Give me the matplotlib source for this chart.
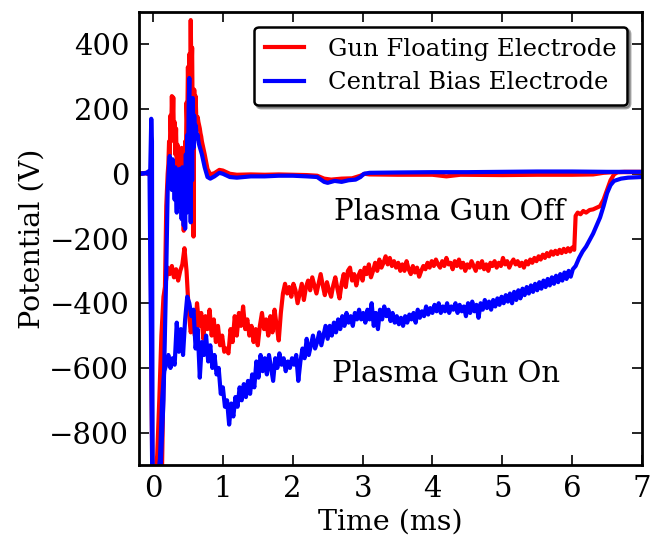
"""Electrode potential traces with the plasma gun on and off."""

import matplotlib
matplotlib.use("Agg")
import matplotlib.pyplot as plt
import numpy as np

# ---- data (time in ms, potential in V) ----
# Gun floating electrode, gun off
red_off_pre_t = [-0.2, -0.1, -0.03, -0.01, 0.02, 0.06, 0.1, 0.13, 0.16, 0.19, 0.21]
red_off_pre_v = [0, 2, -5, -960, -960, -960, -960, -900, -500, -100, 0]
red_off_spk_range = (0.22, 0.70)
red_off_spk_v = [30, 100, 60, 180, 120, 240, 150, 236, 100, 160,
                 60, 140, 20, 90, 40, 70, -20, 60, 0, 80,
                 -40, 30, -176, -60, 100, 20, 220, 150, 330, 200,
                 370, 260, 475, 300, 390, 100, -194, 260, 180, 240,
                 170, 165, 175, 160, 150, 140, 125, 115, 100]
red_off_post_t = [0.74, 0.78, 0.82, 0.88, 0.95, 1.0, 1.1, 1.2, 1.4, 1.6, 1.8, 2.0,
                  2.2, 2.35, 2.45, 2.55, 2.7, 2.85, 2.97, 3.03, 3.1, 3.5, 4.0,
                  4.2, 4.4, 5.0, 5.5, 6.0, 6.3, 6.45, 6.6, 7.0]
red_off_post_v = [60, 15, -2, 2, 12, 10, 0, -3, -2, -3, -2, -3,
                  -4, -6, -15, -18, -15, -14, -6, 0, -2, -3, -3,
                  -8, -3, -4, -3, -3, -2, 3, 5, 5]

# Central bias electrode, gun off
blue_off_pre_t = [-0.2, -0.1, -0.06, -0.04, -0.025, -0.015, -0.005, 0.04, 0.1,
                  0.15, 0.19, 0.21]
blue_off_pre_v = [0, 2, 8, 5, 170, 100, -960, -960, -960, -700, -300, -50]
blue_off_spk_range = (0.23, 0.66)
blue_off_spk_v = [30, 55, -20, 40, -50, 45, -30, 10, -80, 20,
                  -55, -120, 0, -90, -30, 15, -100, -20, -140, 20,
                  -60, -160, -10, -170, 60, -120, 120, -60, 200, 296,
                  50, -150, 230, -20, 234, 80, 180, 120, 150, 130,
                  110, 120, 100, 90]
blue_off_post_t = [0.7, 0.74, 0.78, 0.82, 0.88, 0.95, 1.0, 1.1, 1.2, 1.4, 1.6, 1.8,
                   2.0, 2.2, 2.35, 2.45, 2.5, 2.6, 2.7, 2.8, 2.9, 2.97, 3.02,
                   3.1, 3.5, 4.0, 4.5, 5.0, 5.5, 6.0, 6.5, 7.0]
blue_off_post_v = [60, 20, -10, -15, -8, 3, 0, -10, -12, -8, -8, -6,
                   -6, -8, -10, -25, -28, -22, -25, -20, -18, -10, 0,
                   3, 4, 5, 5, 6, 7, 7, 6, 6]

# Gun floating electrode, gun on
red_on_pre_t = [-0.2, -0.1, -0.04, -0.01, 0.03, 0.06, 0.09, 0.12, 0.15]
red_on_pre_v = [0, 3, -2, -960, -960, -870, -700, -500, -380]
red_on_mid_range = (0.18, 6.03)
red_on_mid_v = [
    -340, -290, -310, -285, -320, -295, -330, -300, -280, -230,
    -300, -420, -490, -450, -500, -400, -470, -430, -510, -440,
    -480, -420, -500, -450, -520, -470, -530, -500, -550, -540,
    -555, -480, -520, -440, -500, -430, -470, -410, -480, -450,
    -500, -470, -520, -480, -530, -470, -430, -480, -450, -500,
    -440, -490, -420, -470, -515, -430, -370, -340, -370, -350,
    -380, -340, -360, -400, -370, -340, -390, -350, -330, -360,
    -320, -345, -370, -340, -310, -345, -375, -335, -360, -380,
    -345, -320, -355, -385, -340, -310, -350, -300, -290, -330,
    -310, -345, -315, -300, -330, -290, -310, -280, -320, -300,
    -275, -300, -265, -290, -275, -255, -280, -260, -285, -270,
    -290, -275, -300, -280, -300, -270, -295, -310, -285, -305,
    -290, -318, -300, -285, -295, -275, -290, -270, -285, -265,
    -280, -290, -270, -285, -260, -280, -275, -295, -270, -285,
    -265, -290, -275, -300, -280, -290, -270, -285, -300, -275,
    -290, -270, -295, -280, -300, -275, -285, -270, -290, -275,
    -285, -260, -280, -270, -290, -275, -265, -280, -270, -285,
    -275, -290, -270, -280, -265, -275, -260, -270, -255, -265,
    -250, -260, -245, -255, -240, -250, -238, -248, -235, -245,
    -232, -242, -230, -240, -228, -235]
red_on_post_t = [6.05, 6.08, 6.12, 6.16, 6.20, 6.25, 6.30, 6.35, 6.40, 6.45, 6.50,
                 6.55, 6.60, 6.65, 6.75, 7.0]
red_on_post_v = [-130, -120, -125, -115, -120, -112, -110, -105, -100, -80, -50,
                 -20, -2, 5, 6, 6]

# Central bias electrode, gun on
blue_on_pre_t = [-0.2, -0.1, -0.05, -0.01, 0.02, 0.06, 0.1, 0.13, 0.16]
blue_on_pre_v = [0, 2, 0, -960, -960, -960, -880, -700, -610]
blue_on_mid_range = (0.19, 6.01)
blue_on_mid_v = [
    -590, -560, -600, -570, -590, -460, -550, -480, -560, -450,
    -380, -400, -440, -420, -540, -480, -630, -520, -560, -500,
    -580, -530, -600, -560, -620, -600, -680, -660, -720, -700,
    -775, -710, -750, -690, -720, -660, -700, -650, -690, -640,
    -680, -620, -660, -580, -630, -560, -610, -570, -620, -560,
    -600, -640, -570, -600, -555, -590, -570, -610, -580, -600,
    -570, -590, -560, -640, -580, -540, -570, -510, -560, -530,
    -500, -540, -520, -490, -530, -500, -470, -510, -470, -500,
    -460, -490, -450, -480, -440, -470, -430, -460, -440, -470,
    -430, -450, -420, -450, -430, -460, -420, -450, -400, -470,
    -430, -480, -420, -450, -410, -440, -420, -455, -430, -460,
    -440, -465, -445, -470, -440, -460, -435, -450, -430, -460,
    -420, -445, -425, -440, -410, -435, -415, -430, -405, -425,
    -400, -430, -410, -425, -400, -430, -410, -420, -400, -430,
    -405, -425, -410, -440, -400, -430, -395, -425, -405, -445,
    -400, -420, -390, -415, -395, -420, -390, -410, -385, -405,
    -380, -400, -375, -395, -370, -400, -365, -390, -360, -385,
    -355, -375, -350, -370, -345, -365, -340, -360, -335, -355,
    -330, -350, -325, -345, -320, -340, -315, -335, -310, -330,
    -305, -325, -300, -318, -295]
blue_on_post_t = [6.05, 6.1, 6.15, 6.2, 6.25, 6.3, 6.35, 6.4, 6.45, 6.5, 6.55, 6.6,
                  6.7, 6.8, 7.0]
blue_on_post_v = [-285, -260, -240, -225, -205, -185, -160, -135, -100, -60, -35,
                  -22, -15, -12, -10]

legend_labels = ["Gun Floating Electrode", "Central Bias Electrode"]
x_ticks = [0, 1, 2, 3, 4, 5, 6, 7]
y_ticks = [-800, -600, -400, -200, 0, 200, 400]


def trace(pre_t, pre_v, rng, mid_v, post_t, post_v):
    mid_t = np.linspace(rng[0], rng[1], len(mid_v))
    t = np.concatenate([pre_t, mid_t, post_t])
    v = np.concatenate([pre_v, mid_v, post_v])
    return t, v


def main() -> None:
    plt.rcParams["font.family"] = "DejaVu Serif"
    plt.rcParams["axes.unicode_minus"] = True

    fig = plt.figure(figsize=(6.63, 5.35), dpi=100)
    ax = fig.add_axes([0.2097, 0.1308, 0.7586, 0.8468])

    lw = 3.0
    t, v = trace(red_off_pre_t, red_off_pre_v, red_off_spk_range, red_off_spk_v,
                 red_off_post_t, red_off_post_v)
    ax.plot(t, v, color="red", lw=lw, label=legend_labels[0])
    t, v = trace(red_on_pre_t, red_on_pre_v, red_on_mid_range, red_on_mid_v,
                 red_on_post_t, red_on_post_v)
    ax.plot(t, v, color="red", lw=lw)
    t, v = trace(blue_off_pre_t, blue_off_pre_v, blue_off_spk_range, blue_off_spk_v,
                 blue_off_post_t, blue_off_post_v)
    ax.plot(t, v, color="blue", lw=lw, label=legend_labels[1])
    t, v = trace(blue_on_pre_t, blue_on_pre_v, blue_on_mid_range, blue_on_mid_v,
                 blue_on_post_t, blue_on_post_v)
    ax.plot(t, v, color="blue", lw=lw)

    ax.set_xlim(-0.2, 7)
    ax.set_ylim(-900, 500)
    ax.set_xticks(x_ticks)
    ax.set_yticks(y_ticks)
    ax.tick_params(direction="in", length=7, width=1.2, top=True, right=True,
                   labelsize=21, pad=7)
    for s in ax.spines.values():
        s.set_linewidth(2)

    ax.set_xlabel("Time (ms)", fontsize=20.5, labelpad=4)
    ax.set_ylabel("Potential (V)", fontsize=20.5, labelpad=3)

    ax.text(4.24, -118, "Plasma Gun Off", fontsize=21, ha="center", va="center")
    ax.text(4.2, -618, "Plasma Gun On", fontsize=21, ha="center", va="center")

    leg = ax.legend(loc="upper right", fontsize=17.5, shadow=True, fancybox=True,
                    framealpha=1, edgecolor="black", handlelength=1.6,
                    handletextpad=1.0, borderpad=0.45, borderaxespad=0.6,
                    labelspacing=0.45)
    leg.get_frame().set_linewidth(1.8)

    fig.savefig("out.png", dpi=100)


if __name__ == "__main__":
    main()
